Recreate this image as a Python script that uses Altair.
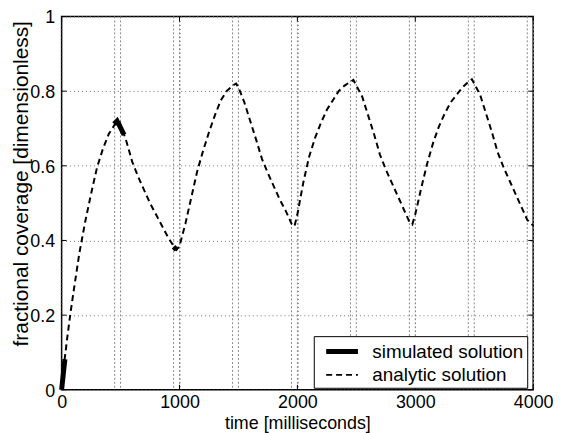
import altair as alt
import pandas as pd

# ---- data ----
analytic_t = [0, 25, 50, 75, 100, 150, 200, 250, 300, 350, 400, 450, 490,
              550, 600, 650, 700, 750, 800, 850, 900, 950, 975,
              1000, 1050, 1100, 1150, 1200, 1250, 1300, 1350, 1400, 1450, 1480,
              1500, 1550, 1600, 1650, 1700, 1750, 1800, 1850, 1900, 1950, 1975,
              2000, 2050, 2100, 2150, 2200, 2250, 2300, 2350, 2400, 2450, 2475,
              2500, 2550, 2600, 2650, 2700, 2750, 2800, 2850, 2900, 2950, 2975,
              3000, 3050, 3100, 3150, 3200, 3250, 3300, 3350, 3400, 3450, 3480,
              3500, 3550, 3600, 3650, 3700, 3750, 3800, 3850, 3900, 3950, 4000]
analytic_v = [0.0, 0.08, 0.145, 0.205, 0.26, 0.365, 0.45, 0.525, 0.595, 0.645, 0.685, 0.71, 0.72,
              0.665, 0.61, 0.57, 0.535, 0.50, 0.47, 0.44, 0.41, 0.385, 0.375,
              0.385, 0.445, 0.515, 0.585, 0.64, 0.69, 0.735, 0.775, 0.80, 0.815, 0.82,
              0.81, 0.77, 0.72, 0.67, 0.618, 0.58, 0.545, 0.51, 0.48, 0.445, 0.438,
              0.47, 0.555, 0.625, 0.675, 0.715, 0.75, 0.775, 0.80, 0.815, 0.825, 0.83,
              0.815, 0.785, 0.735, 0.685, 0.63, 0.59, 0.555, 0.52, 0.485, 0.45, 0.443,
              0.47, 0.54, 0.605, 0.66, 0.705, 0.74, 0.77, 0.79, 0.81, 0.825, 0.832,
              0.82, 0.79, 0.74, 0.69, 0.635, 0.595, 0.56, 0.525, 0.49, 0.455, 0.44]

sim_t = [0, 28, 445, 470, 495, 530, 950, 975]
sim_v = [0.0, 0.082, 0.712, 0.72, 0.705, 0.683, 0.383, 0.375]
sim_seg = ["s1", "s1", "s2", "s2", "s2", "s2", "s3", "s3"]

stim_edges = [450, 500, 950, 1000, 1450, 1500, 1950, 2000,
              2450, 2500, 2950, 3000, 3450, 3500, 3950, 4000]

x_ticks = [0, 1000, 2000, 3000, 4000]
y_ticks = [0, 0.2, 0.4, 0.6, 0.8, 1.0]

series_order = ["simulated solution", "analytic solution"]

W, H = 475, 376
FONT = "Liberation Sans"

df_a = pd.DataFrame({"t": analytic_t, "v": analytic_v,
                     "series": "analytic solution", "seg": "a"})
df_s = pd.DataFrame({"t": sim_t, "v": sim_v,
                     "series": "simulated solution", "seg": sim_seg})
df = pd.concat([df_s, df_a], ignore_index=True)

xscale = alt.Scale(domain=[0, 4000], nice=False, zero=False)
yscale = alt.Scale(domain=[0, 1], nice=False, zero=False)

x_axis = alt.Axis(values=x_ticks, format="d", ticks=False, domain=False,
                  grid=True, gridDash=[1, 3], gridColor="#777", gridWidth=1,
                  labelFont=FONT, labelFontSize=18, labelColor="black",
                  labelPadding=4, labelFlush=False,
                  title="time [milliseconds]", titleFont=FONT, titleFontSize=18,
                  titleFontWeight="normal", titleColor="black",
                  titleY=39.5, titleBaseline="alphabetic")
y_axis = alt.Axis(values=y_ticks, format="~g", ticks=False, domain=False,
                  grid=True, gridDash=[1, 3], gridColor="#777", gridWidth=1,
                  labelFont=FONT, labelFontSize=18, labelColor="black",
                  labelPadding=7, labelFlush=False, labelOffset=1.5,
                  title="fractional coverage [dimensionless]", titleFont=FONT,
                  titleFontSize=21, titleFontWeight="normal", titleColor="black",
                  titleX=-34, titleY=168, titleAngle=270, titleBaseline="alphabetic")

stim = alt.Chart(pd.DataFrame({"t": stim_edges})).mark_rule(
    color="#888", strokeWidth=1, strokeDash=[2, 2]
).encode(x=alt.X("t:Q", scale=xscale, axis=x_axis))

legend = alt.Legend(orient="none", legendX=254, legendY=322, title=None,
                    padding=3, symbolOffset=13, strokeColor="black", fillColor="white",
                    symbolType="M-1.6,0H1.6", symbolSize=400,
                    symbolStrokeColor="black", symbolFillColor="transparent",
                    labelFont=FONT, labelFontSize=19, labelColor="black",
                    labelOffset=18, rowPadding=2)

lines = alt.Chart(df).mark_line(color="black", strokeCap="butt").encode(
    x=alt.X("t:Q", scale=xscale, axis=x_axis),
    y=alt.Y("v:Q", scale=yscale, axis=y_axis),
    strokeDash=alt.StrokeDash("series:N",
                              scale=alt.Scale(domain=series_order, range=[[1, 0], [6, 4]]),
                              legend=legend),
    strokeWidth=alt.StrokeWidth("series:N",
                                scale=alt.Scale(domain=series_order, range=[5, 2]),
                                legend=legend),
    detail="seg:N",
)

xt = pd.DataFrame({"t": x_ticks})
yt = pd.DataFrame({"v": y_ticks})
tick_bottom = alt.Chart(xt).mark_rule(color="black").encode(
    x=alt.X("t:Q", scale=xscale), y=alt.value(H), y2=alt.value(H - 5))
tick_top = alt.Chart(xt).mark_rule(color="black").encode(
    x=alt.X("t:Q", scale=xscale), y=alt.value(0), y2=alt.value(5))
tick_left = alt.Chart(yt).mark_rule(color="black").encode(
    y=alt.Y("v:Q", scale=yscale), x=alt.value(0), x2=alt.value(5))
tick_right = alt.Chart(yt).mark_rule(color="black").encode(
    y=alt.Y("v:Q", scale=yscale), x=alt.value(W - 5), x2=alt.value(W))

chart = alt.layer(stim, lines, tick_bottom, tick_top, tick_left, tick_right).properties(
    width=W, height=H,
    autosize=alt.AutoSizeParams(type="none"),
    padding={"left": 54, "top": 7, "right": 24, "bottom": 42},
    background="white",
).configure_view(stroke="black", strokeWidth=1.5)

chart.save("out.html", embed_options={"renderer": "svg", "actions": False})
